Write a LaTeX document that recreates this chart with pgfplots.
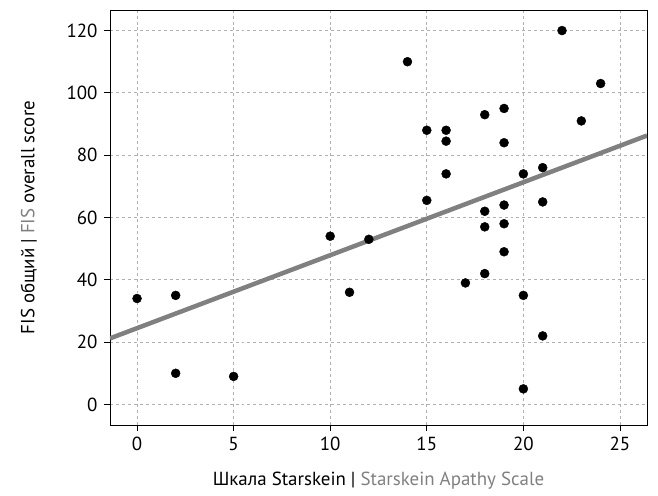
\documentclass[border=0pt]{standalone}
\usepackage{fontspec}
\setmainfont{PT Sans}
\usepackage{pgfplots}
\pgfplotsset{compat=1.18}
\definecolor{fitgray}{RGB}{128,128,128}
\definecolor{labgray}{RGB}{128,128,128}
\definecolor{gridgray}{RGB}{176,176,176}

\pgfplotstableread{
x y
0 34
2 35
2 10
5 9
10 54
11 36
12 53
14 110
15 88
15 65.5
16 88
16 84.5
16 74
17 39
18 93
18 62
18 57
18 42
19 95
19 84
19 64
19 58
19 49
20 74
20 35
20 5
21 76
21 65
21 22
22 120
23 91
24 103
}\datatable

\begin{document}
\fontsize{19}{22}\selectfont
\begin{tikzpicture}
\begin{axis}[
  scale only axis,
  width=537bp, height=415bp,
  xmin=-1.4, xmax=26.4,
  ymin=-6.6, ymax=126.6,
  xtick={0,5,10,15,20,25},
  ytick={0,20,40,60,80,100,120},
  grid=major,
  major grid style={gridgray, dashed, line width=0.8pt},
  tick style={black, line width=0.9pt},
  tick align=outside,
  major tick length=6bp,
  xtick pos=bottom, ytick pos=left,
  axis line style={line width=1pt},
  /pgf/number format/assume math mode=true,
  tick label style={font=\fontsize{19}{22}\selectfont},
  label style={font=\fontsize{19}{22}\selectfont},
  xlabel={Шкала Starskein | \textcolor{labgray}{Starskein Apathy Scale}},
  ylabel={FIS общий | \textcolor{labgray}{FIS} overall score},
  xlabel style={yshift=-8bp},
  ylabel style={yshift=17bp},
  clip=true,
]
\addplot[only marks, mark=*, mark size=4.5bp, black] table[x=x, y=y] {\datatable};
\addplot[fitgray, line width=4.5bp, no marks] coordinates {(-1.4,21.2) (26.4,86.3)};
\end{axis}
\path (current axis.south west) ++(-110bp,-70bp) (current axis.north east) ++(11bp,10bp);
\end{tikzpicture}
\end{document}
